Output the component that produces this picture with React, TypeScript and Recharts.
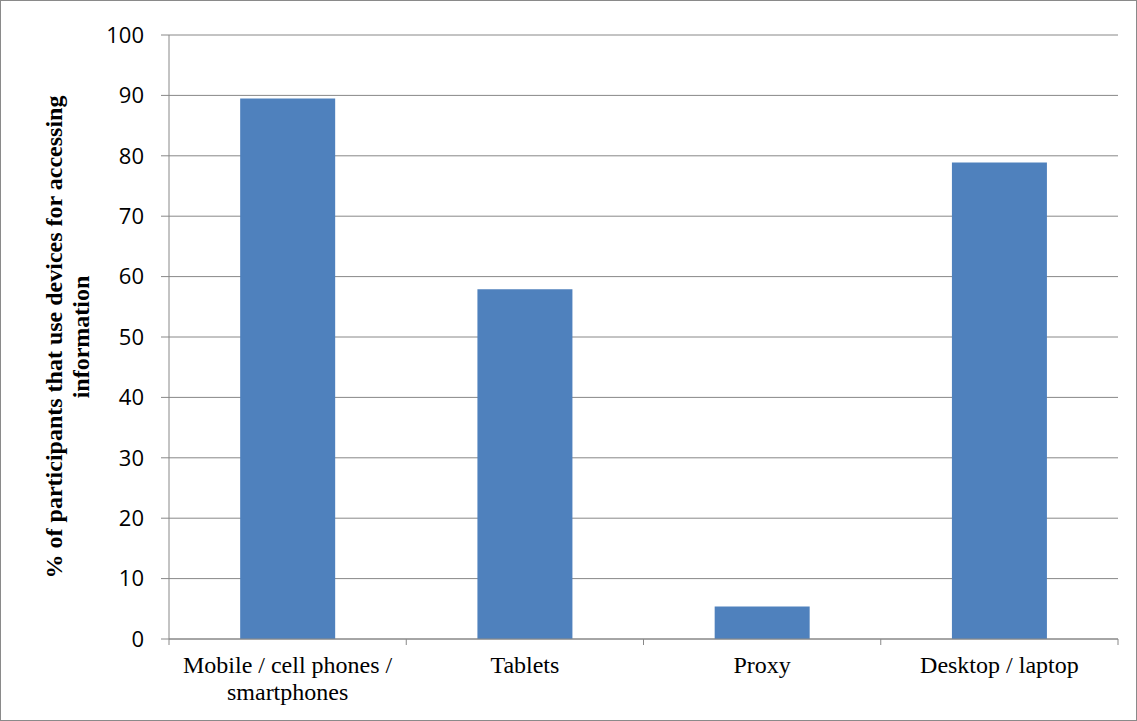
import React from 'react';
import { BarChart, Bar, XAxis, YAxis, CartesianGrid } from 'recharts';

const categories = ['Mobile / cell phones /\nsmartphones', 'Tablets', 'Proxy', 'Desktop / laptop'];
const usage = [89.5, 57.9, 5.4, 78.9];
const yTicks = [0, 10, 20, 30, 40, 50, 60, 70, 80, 90, 100];
const yLabelLines = ['% of participants that use devices for accessing', 'information'];

const W = 1137;
const H = 721;
const LEFT = 169;
const RIGHT = 19;
const TOP = 35;
const BOTTOM = 82;
const BAND = (W - LEFT - RIGHT) / categories.length;
const GRAY = '#888888';
const SERIF = '"Liberation Serif", "Times New Roman", serif';

const data = categories.map((name, i) => ({ name, value: usage[i] }));

const XTick = ({ x, y, payload, index }: any) => {
  const lines = String(payload.value).split('\n');
  return (
    <g>
      <line x1={x - BAND / 2} x2={x - BAND / 2} y1={y} y2={y + 6} stroke={GRAY} />
      {index === categories.length - 1 && (
        <line x1={x + BAND / 2} x2={x + BAND / 2} y1={y} y2={y + 6} stroke={GRAY} />
      )}
      <text x={x} y={y + 34} textAnchor="middle" fill="#000" fontFamily={SERIF} fontSize={24}>
        {lines.map((l, i) => (
          <tspan key={i} x={x} dy={i === 0 ? 0 : 27}>{l}</tspan>
        ))}
      </text>
    </g>
  );
};

const YLabel = ({ viewBox }: any) => {
  const cy = viewBox.y + viewBox.height / 2;
  const xs = [62, 89];
  return (
    <g>
      {yLabelLines.map((l, i) => (
        <text
          key={i}
          x={xs[i]}
          y={cy}
          transform={`rotate(-90, ${xs[i]}, ${cy})`}
          textAnchor="middle"
          fontFamily={SERIF}
          fontWeight="bold"
          fontSize={24}
          fill="#000"
        >
          {l}
        </text>
      ))}
    </g>
  );
};

export default function App() {
  return (
    <div style={{ position: 'absolute', left: 0, top: 0, width: W, height: H, background: '#fff' }}>
      <BarChart
        width={W}
        height={H}
        data={data}
        margin={{ top: TOP, right: RIGHT, bottom: 0, left: 0 }}
        barCategoryGap="30%"
      >
        <CartesianGrid vertical={false} stroke={GRAY} strokeWidth={1} />
        <XAxis
          dataKey="name"
          height={BOTTOM}
          interval={0}
          tickLine={false}
          tickSize={0}
          tickMargin={0}
          axisLine={{ stroke: GRAY }}
          tick={<XTick />}
        />
        <YAxis
          width={LEFT}
          domain={[0, 100]}
          ticks={yTicks}
          interval={0}
          tickSize={8}
          tickMargin={17}
          axisLine={{ stroke: GRAY }}
          tickLine={{ stroke: GRAY }}
          tick={{ fill: '#000', fontSize: 22, fontFamily: '"Open Sans", sans-serif' }}
          label={{ content: YLabel }}
        />
        <Bar dataKey="value" fill="#4F81BD" isAnimationActive={false} />
      </BarChart>
      <div
        style={{
          position: 'absolute',
          left: 0,
          top: 0,
          width: W,
          height: H,
          boxSizing: 'border-box',
          border: '1px solid #8a8a8a',
          pointerEvents: 'none',
        }}
      />
    </div>
  );
}
